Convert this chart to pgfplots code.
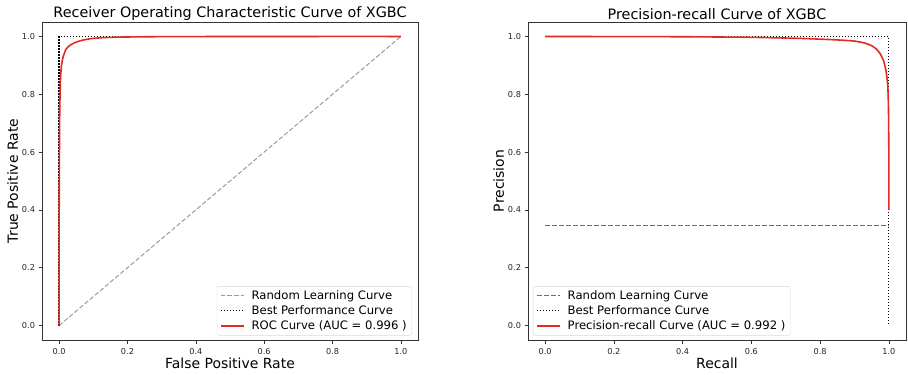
\documentclass[border=0pt]{standalone}
\usepackage{fontspec}
\setmainfont{DejaVu Sans}
\usepackage{pgfplots}
\pgfplotsset{compat=1.18}
\definecolor{rocred}{RGB}{228,40,34}
\definecolor{rndgray}{RGB}{155,155,155}
\definecolor{rndblue}{RGB}{60,125,185}
\pgfplotsset{
  myax/.style={
    scale only axis,
    width=376bp, height=318bp,
    xmin=-0.05, xmax=1.05, ymin=-0.05, ymax=1.05,
    xtick={0,0.2,...,1.0}, ytick={0,0.2,...,1.0},
    xtick pos=bottom, ytick pos=left,
    /pgf/number format/.cd, fixed, fixed zerofill, precision=1, assume math mode=true,
    /pgfplots/.cd,
    tick align=outside,
    major tick length=3.5bp,
    tick style={black!80, line width=0.6bp},
    axis line style={black!80, line width=0.6bp},
    ticklabel style={font=\fontsize{8.2}{10}\selectfont, text=black!85},
    xticklabel style={yshift=-1bp},
    label style={font=\fontsize{14}{16}\selectfont},
    title style={font=\fontsize{14.4}{17}\selectfont, yshift=-7.5bp},
    xlabel style={yshift=3.5bp},
    ylabel style={yshift=-3bp},
    legend style={font=\fontsize{11.7}{14}\selectfont, draw=black!15, rounded corners=2bp,
      fill=white, fill opacity=0.8, text opacity=1, inner xsep=3bp, inner ysep=2bp,
      row sep=1bp},
    legend cell align=left,
    legend image code/.code={\draw[#1] (0bp,0bp) -- (23bp,0bp); \path (28bp,0bp);},
  }
}
\begin{document}
\begin{tikzpicture}
\path[use as bounding box] (0,0) rectangle (908bp,375bp);
\begin{axis}[myax, at={(42bp,35bp)}, anchor=south west,
  title={Receiver Operating Characteristic Curve of XGBC},
  xlabel={False Positive Rate}, ylabel={True Positive Rate},
  legend style={at={(0.984,0.014)}, anchor=south east}]
\addplot[rndgray, dash pattern=on 4.5bp off 2.2bp, line width=1bp] coordinates {(0,0) (1,1)};
\addlegendentry{Random Learning Curve}
\addplot[black, dash pattern=on 1.2bp off 1.8bp, line width=1.2bp] coordinates {(0,0) (0,1) (1,1)};
\addlegendentry{Best Performance Curve}
\addplot[rocred, line width=1.6bp, smooth, tension=0.3] coordinates {
(0,0) (0.0,0.3) (0.001,0.6) (0.002,0.75) (0.004,0.85) (0.007,0.9) (0.012,0.93) (0.02,0.955)
(0.03,0.968) (0.045,0.978) (0.065,0.986) (0.09,0.992) (0.13,0.996) (0.19,0.998) (0.3,0.9993) (0.5,0.9998) (0.75,1.0) (1,1)};
\addlegendentry{ROC Curve (AUC = 0.996 )}
\end{axis}
\begin{axis}[myax, width=378bp, at={(528bp,35bp)}, anchor=south west,
  title={Precision-recall Curve of XGBC},
  xlabel={Recall}, ylabel={Precision},
  legend style={at={(0.013,0.014)}, anchor=south west}]
\addplot[rndblue, dash pattern=on 5bp off 2bp, line width=1bp] coordinates {(0,0.345) (1,0.345)};
\addlegendentry{Random Learning Curve}
\addplot[black, dash pattern=on 1.2bp off 1.8bp, line width=1.2bp] coordinates {(0,1) (1,1) (1,0)};
\addlegendentry{Best Performance Curve}
\addplot[rocred, line width=1.6bp, smooth, tension=0.3] coordinates {
(0,1.0) (0.2,0.9995) (0.4,0.999) (0.6,0.997) (0.75,0.993) (0.85,0.988) (0.9,0.984)
(0.93,0.977) (0.95,0.968) (0.965,0.955) (0.975,0.94) (0.985,0.915) (0.992,0.88) (0.997,0.83) (0.999,0.75) (1.0,0.6) (1.0,0.4)};
\addlegendentry{Precision-recall Curve (AUC = 0.992 )}
\end{axis}
\end{tikzpicture}
\end{document}
